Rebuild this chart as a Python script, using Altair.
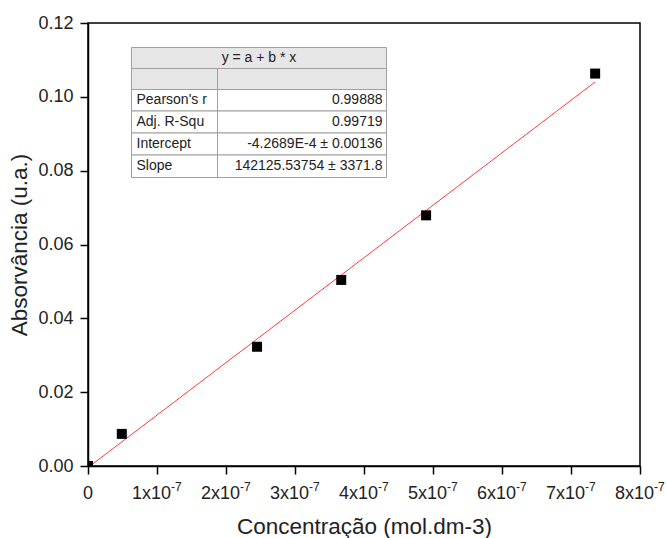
import altair as alt
import pandas as pd

# Calibration data
concentration = [0.0, 4.9e-8, 2.45e-7, 3.67e-7, 4.9e-7, 7.35e-7]
absorbance = [0.0, 0.0087, 0.0323, 0.0504, 0.0679, 0.1063]

# Linear fit results (y = a + b * x)
intercept = -4.2689e-4
slope = 142125.53754
stat_names = ["Pearson's r", "Adj. R-Squ", "Intercept", "Slope"]
stat_values = ["0.99888", "0.99719", "-4.2689E-4 \u00b1 0.00136", "142125.53754 \u00b1 3371.8"]
fit_title = "y = a + b * x"

# Axis ticks (major + minor) and x tick labels (mantissa + exponent)
x_ticks = [k * 5e-8 for k in range(17)]
y_ticks = [k * 0.01 for k in range(13)]
x_major = [k * 1e-7 for k in range(9)]
x_label_main = ["0", "1x10", "2x10", "3x10", "4x10", "5x10", "6x10", "7x10", "8x10"]
x_label_exp = ["", "-7", "-7", "-7", "-7", "-7", "-7", "-7", "-7"]

FONT = "Liberation Sans"
INK = "#222222"
W, H = 552, 443
PAD = {"left": 88, "top": 23, "right": 26, "bottom": 72}

points = pd.DataFrame({"c": concentration, "a": absorbance})
fit = pd.DataFrame({"c": [0.0, max(concentration)]})
fit["a"] = intercept + slope * fit["c"]

x_scale = alt.Scale(domain=[0, 8e-7], nice=False, zero=False)
y_scale = alt.Scale(domain=[0, 0.12], nice=False, zero=False)

x_axis = alt.Axis(
    values=x_ticks,
    labels=False,
    tickSize={"condition": {"test": "round(datum.value*2e7) % 2 == 0", "value": 8}, "value": 4},
    title="Concentra\u00e7\u00e3o (mol.dm-3)", titleY=67, titleBaseline="alphabetic",
    grid=False,
)
y_axis = alt.Axis(
    values=y_ticks,
    labelExpr="round(datum.value*100) % 2 == 0 ? format(datum.value, '.2f') : ''",
    tickSize={"condition": {"test": "round(datum.value*100) % 2 == 0", "value": 8}, "value": 4},
    labelFlush=False, labelOverlap=False, labelPadding=7,
    title="Absorv\u00e2ncia (u.a.)", titleX=-62, titleBaseline="alphabetic",
    grid=False,
)

line = alt.Chart(fit).mark_line(color="#ff3b3b", strokeWidth=1, clip=True).encode(
    x=alt.X("c:Q", scale=x_scale, axis=x_axis),
    y=alt.Y("a:Q", scale=y_scale, axis=y_axis),
)
marks = alt.Chart(points).mark_point(
    shape="square", filled=True, size=100, color="black", opacity=1, clip=True
).encode(x="c:Q", y="a:Q")

# X tick labels in scientific notation: mantissa plus raised exponent
xl = pd.DataFrame({"c": x_major, "m": x_label_main, "e": x_label_exp})
zero_lbl = alt.Chart(xl[xl["e"] == ""]).mark_text(
    align="center", baseline="alphabetic", font=FONT, fontSize=18, color=INK
).encode(x="c:Q", y=alt.value(H + 33), text="m:N")
main_lbl = alt.Chart(xl[xl["e"] != ""]).mark_text(
    align="right", baseline="alphabetic", dx=14, font=FONT, fontSize=18, color=INK
).encode(x="c:Q", y=alt.value(H + 33), text="m:N")
exp_lbl = alt.Chart(xl[xl["e"] != ""]).mark_text(
    align="left", baseline="alphabetic", dx=14, font=FONT, fontSize=12, color=INK
).encode(x="c:Q", y=alt.value(H + 25), text="e:N")

# Fit statistics table, laid out in pixels inside the plot area
tx0, tx1, tdiv = 43.5, 298.5, 129.5
row_edges = [24.5, 45.5, 66.5, 88.0, 110.0, 132.0, 154.5]
cells = [
    {"x0": tx0, "x1": tx1, "y0": row_edges[0], "y1": row_edges[1], "fill": "#e6e6e6"},
    {"x0": tx0, "x1": tdiv, "y0": row_edges[1], "y1": row_edges[2], "fill": "#e6e6e6"},
    {"x0": tdiv, "x1": tx1, "y0": row_edges[1], "y1": row_edges[2], "fill": "#e6e6e6"},
]
for i in range(len(stat_names)):
    for a, b in ((tx0, tdiv), (tdiv, tx1)):
        cells.append({"x0": a, "x1": b, "y0": row_edges[i + 2], "y1": row_edges[i + 3], "fill": "white"})
cells = pd.DataFrame(cells)

table_rects = alt.Chart(cells).mark_rect(stroke="#a0a0a0", strokeWidth=1).encode(
    x=alt.X("x0:Q", scale=None, axis=None),
    x2="x1:Q",
    y=alt.Y("y0:Q", scale=None, axis=None),
    y2="y1:Q",
    fill=alt.Fill("fill:N", scale=None),
)

centers = [(row_edges[i + 2] + row_edges[i + 3]) / 2 for i in range(len(stat_names))]
left_txt = pd.DataFrame({"px": [tx0 + 5] * len(stat_names), "py": centers, "t": stat_names})
right_txt = pd.DataFrame({"px": [tx1 - 4] * len(stat_names), "py": centers, "t": stat_values})
head_txt = pd.DataFrame({"px": [(tx0 + tx1) / 2], "py": [(row_edges[0] + row_edges[1]) / 2], "t": [fit_title]})

def txt(df, align):
    return alt.Chart(df).mark_text(
        align=align, baseline="middle", font=FONT, fontSize=14, color=INK
    ).encode(
        x=alt.X("px:Q", scale=None, axis=None),
        y=alt.Y("py:Q", scale=None, axis=None),
        text="t:N",
    )

chart = alt.layer(
    line, marks, zero_lbl, main_lbl, exp_lbl,
    table_rects, txt(left_txt, "left"), txt(right_txt, "right"), txt(head_txt, "center"),
).properties(
    width=W, height=H, autosize=alt.AutoSizeParams(type="none"), padding=PAD,
).configure_view(
    stroke="black", strokeWidth=1.5
).configure_axis(
    domainColor="black", domainWidth=1.5, tickColor="black", tickWidth=1.5,
    labelFont=FONT, labelFontSize=18, labelColor=INK,
    titleFont=FONT, titleFontSize=22.5, titleColor=INK, titleFontWeight="normal",
)

chart.save("out.html", embed_options={"renderer": "svg", "actions": False})
